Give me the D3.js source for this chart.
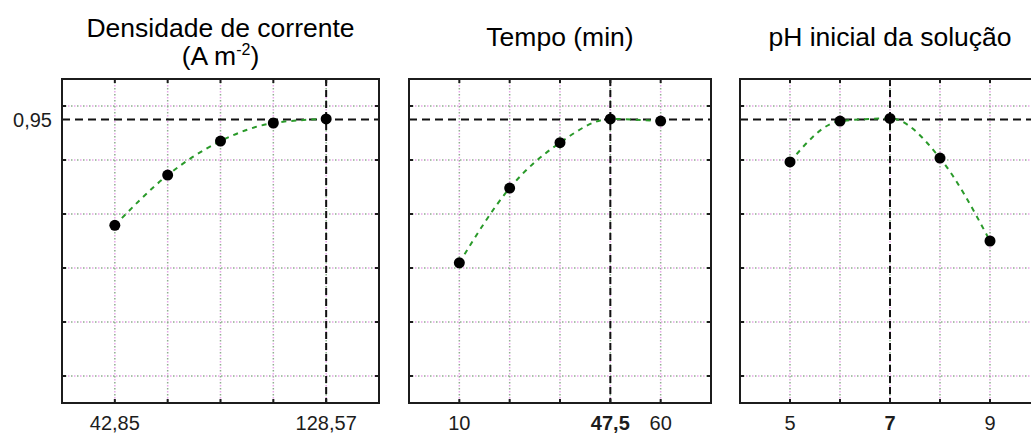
<!DOCTYPE html>
<html>
<head>
<meta charset="utf-8">
<script src="https://cdn.jsdelivr.net/npm/d3@7"></script>
<style>
  body { margin: 0; background: #fff; }
  svg { display: block; }
</style>
</head>
<body>
<div id="chart"></div>
<script>
// desirability profile values
const densidadeX = [42.85, 64.28, 85.71, 107.14, 128.57];
const densidadeY = [0.558, 0.744, 0.870, 0.937, 0.952];
const densidadeTicks = ["42,85", "", "", "", "128,57"];

const tempoX = [10, 22.5, 35, 47.5, 60];
const tempoY = [0.419, 0.696, 0.864, 0.952, 0.944];
const tempoTicks = ["10", "", "", "47,5", "60"];

const phX = [5, 6, 7, 8, 9];
const phY = [0.793, 0.944, 0.954, 0.807, 0.500];
const phTicks = ["5", "", "7", "", "9"];

const yGrid = [0, 0.2, 0.4, 0.6, 0.8, 1.0];
const optimum = 0.95;
const optimumLabel = "0,95";

const W = 1031, H = 437;
const TOP = 79, BOTTOM = 403;
const GREEN = "#2a9a2a";
const INK = "#1c1c1c";

const svg = d3.select("#chart").append("svg")
    .attr("width", W)
    .attr("height", H)
    .style("font-family", "'Liberation Sans', Arial, sans-serif");

const y = d3.scaleLinear().domain([-0.1, 1.1]).range([BOTTOM, TOP]);

const panels = [
    { xs: densidadeX, ys: densidadeY, ticks: densidadeTicks, domain: [21.42, 150],
      range: [62, 379], best: 128.57, boldIdx: -1, title: "densidade" },
    { xs: tempoX, ys: tempoY, ticks: tempoTicks, domain: [-2.5, 72.5],
      range: [409, 711], best: 47.5, boldIdx: 3, title: "Tempo (min)" },
    { xs: phX, ys: phY, ticks: phTicks, domain: [4, 10],
      range: [740, 1040], best: 7, boldIdx: 2, title: "pH inicial da solução" }
];

function dotted(g, x1, y1, x2, y2) {
    // Statistica style grid: alternating pink / grey-green dots
    g.append("line").attr("x1", x1).attr("y1", y1).attr("x2", x2).attr("y2", y2)
        .attr("stroke", "#e6a8e8").attr("stroke-width", 1.5)
        .attr("stroke-dasharray", "1.5,4.5");
    g.append("line").attr("x1", x1).attr("y1", y1).attr("x2", x2).attr("y2", y2)
        .attr("stroke", "#8fae8f").attr("stroke-width", 1.5)
        .attr("stroke-dasharray", "1.5,4.5").attr("stroke-dashoffset", -3);
}

panels.forEach((p, pi) => {
    const x = d3.scaleLinear().domain(p.domain).range(p.range);
    const g = svg.append("g");
    const [x0, x1] = p.range;

    // grid
    p.xs.forEach(v => dotted(g, x(v), TOP, x(v), BOTTOM));
    yGrid.forEach(v => dotted(g, x0, y(v), x1, y(v)));

    // optimum cross hairs
    g.append("line")
        .attr("x1", x0).attr("x2", x1)
        .attr("y1", y(optimum)).attr("y2", y(optimum))
        .attr("stroke", "#111").attr("stroke-width", 2)
        .attr("stroke-dasharray", "8,5");
    g.append("line")
        .attr("x1", x(p.best)).attr("x2", x(p.best))
        .attr("y1", TOP).attr("y2", BOTTOM)
        .attr("stroke", "#111").attr("stroke-width", 2)
        .attr("stroke-dasharray", "7,4");

    // fitted curve
    const pts = p.xs.map((v, i) => [v, p.ys[i]]);
    const line = d3.line()
        .x(d => x(d[0]))
        .y(d => y(d[1]))
        .curve(d3.curveMonotoneX);
    g.append("path")
        .attr("d", line(pts))
        .attr("fill", "none")
        .attr("stroke", GREEN)
        .attr("stroke-width", 2)
        .attr("stroke-dasharray", "5,5");

    g.selectAll("circle").data(pts).join("circle")
        .attr("cx", d => x(d[0]))
        .attr("cy", d => y(d[1]))
        .attr("r", 5.5)
        .attr("fill", "#000");

    // frame
    g.append("rect")
        .attr("x", x0).attr("y", TOP)
        .attr("width", x1 - x0).attr("height", BOTTOM - TOP)
        .attr("fill", "none").attr("stroke", INK).attr("stroke-width", 2);

    // inner ticks
    p.xs.forEach(v => {
        g.append("line").attr("x1", x(v)).attr("x2", x(v)).attr("y1", TOP).attr("y2", TOP + 4)
            .attr("stroke", INK).attr("stroke-width", 2);
        g.append("line").attr("x1", x(v)).attr("x2", x(v)).attr("y1", BOTTOM).attr("y2", BOTTOM - 4)
            .attr("stroke", INK).attr("stroke-width", 2);
    });
    yGrid.forEach(v => {
        g.append("line").attr("x1", x0).attr("x2", x0 + 4).attr("y1", y(v)).attr("y2", y(v))
            .attr("stroke", INK).attr("stroke-width", 2);
        g.append("line").attr("x1", x1).attr("x2", x1 - 4).attr("y1", y(v)).attr("y2", y(v))
            .attr("stroke", INK).attr("stroke-width", 2);
    });

    // tick labels
    p.xs.forEach((v, i) => {
        if (!p.ticks[i]) return;
        g.append("text")
            .attr("x", x(v)).attr("y", 430)
            .attr("text-anchor", "middle")
            .attr("font-size", 20)
            .attr("font-weight", i === p.boldIdx ? "bold" : "normal")
            .attr("fill", INK)
            .text(p.ticks[i]);
    });

    // titles
    const cx = (x0 + x1) / 2;
    if (p.title === "densidade") {
        g.append("text").attr("x", cx).attr("y", 37)
            .attr("text-anchor", "middle").attr("font-size", 26.5).attr("fill", "#000")
            .text("Densidade de corrente");
        const t = g.append("text").attr("x", cx).attr("y", 65)
            .attr("text-anchor", "middle").attr("font-size", 26.5).attr("fill", "#000");
        t.append("tspan").text("(A m");
        t.append("tspan").attr("font-size", 16).attr("dy", -10).text("-2");
        t.append("tspan").attr("dy", 10).text(")");
    } else {
        g.append("text").attr("x", cx).attr("y", 46)
            .attr("text-anchor", "middle").attr("font-size", 26.5).attr("fill", "#000")
            .text(p.title);
    }

    if (pi === 0) {
        g.append("text")
            .attr("x", x0 - 10).attr("y", y(optimum))
            .attr("dy", "0.35em")
            .attr("text-anchor", "end")
            .attr("font-size", 20)
            .attr("fill", INK)
            .text(optimumLabel);
    }
});
</script>
</body>
</html>
